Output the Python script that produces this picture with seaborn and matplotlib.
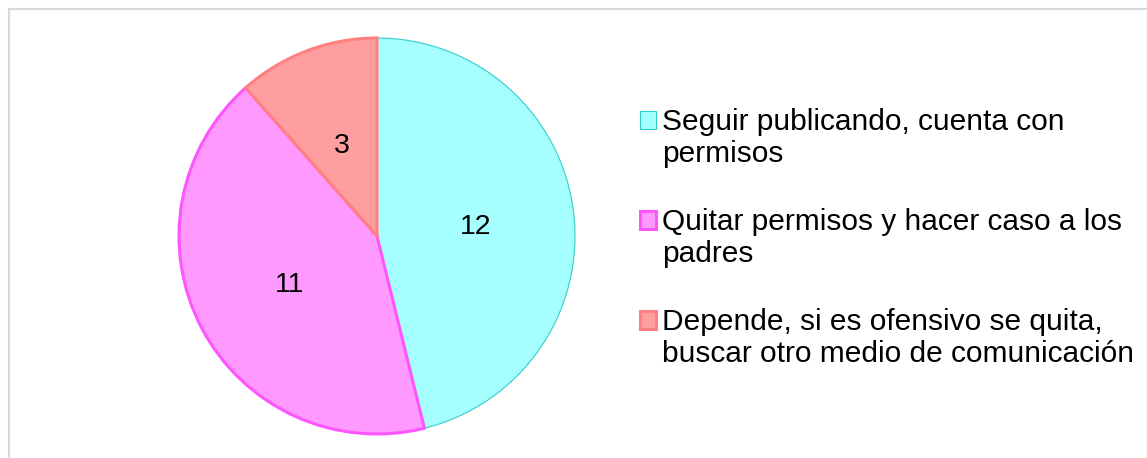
import matplotlib
matplotlib.use("Agg")
import matplotlib.pyplot as plt
import seaborn as sns
from matplotlib.legend_handler import HandlerPatch
from matplotlib.patches import Patch, Rectangle

# --- Data -------------------------------------------------------------------
categories = [
    "Seguir publicando, cuenta con\npermisos",
    "Quitar permisos y hacer caso a los\npadres",
    "Depende, si es ofensivo se quita,\nbuscar otro medio de comunicación",
]
values = [12, 11, 3]

fill_colors = ["#A6FFFF", "#FF99FF", "#FF9E9E"]
edge_colors = ["#33CCCC", "#FF55FF", "#FF8080"]
edge_widths = [0.8, 2.2, 2.2]

sns.set_theme(style="white")
plt.rcParams["font.family"] = ["Liberation Sans", "DejaVu Sans"]

W, H = 1147, 458
PIE_FS = 20.5
LEG_FS = 21.5
fig = plt.figure(figsize=(W / 100, H / 100), dpi=100)

# chart-area border (runs off the right and bottom edge like the source)
fig.patches.append(Rectangle((9 / W, -0.1), 1.2, (H - 9) / H + 0.1,
                             transform=fig.transFigure, fill=False,
                             edgecolor="#D9D9D9", linewidth=1.5))

cx, cy, r = 377, 236, 198
ax = fig.add_axes([(cx - r) / W, (H - cy - r) / H, 2 * r / W, 2 * r / H])

wedges, texts = ax.pie(values, startangle=90, counterclock=False,
                       colors=fill_colors, labels=[str(v) for v in values],
                       labeldistance=0.5,
                       textprops={"fontsize": PIE_FS, "color": "black",
                                  "ha": "center", "va": "center_baseline"})
for w, ec, lw in zip(wedges, edge_colors, edge_widths):
    w.set_edgecolor(ec)
    w.set_linewidth(lw)
    w.set_clip_on(False)
ax.set_xlim(-1, 1)
ax.set_ylim(-1, 1)


def _top_line_square(legend, orig_handle, xdescent, ydescent, width, height, fontsize):
    # keep the swatch next to the first line of a two-line label
    return Rectangle((-xdescent, -ydescent + 0.62 * fontsize), width, height)


handles = [Patch(facecolor=fc, edgecolor=ec, linewidth=lw)
           for fc, ec, lw in zip(fill_colors, edge_colors, edge_widths)]
leg = fig.legend(handles, categories, loc="upper left",
                 bbox_to_anchor=(640 / W, 1 - 108 / H), frameon=False,
                 fontsize=LEG_FS, handlelength=0.55, handleheight=0.55,
                 handletextpad=0.18, labelspacing=1.32, borderpad=0,
                 borderaxespad=0,
                 handler_map={Patch: HandlerPatch(patch_func=_top_line_square)})
for t in leg.get_texts():
    t.set_color("black")

fig.savefig("out.png", dpi=100, facecolor="white")
